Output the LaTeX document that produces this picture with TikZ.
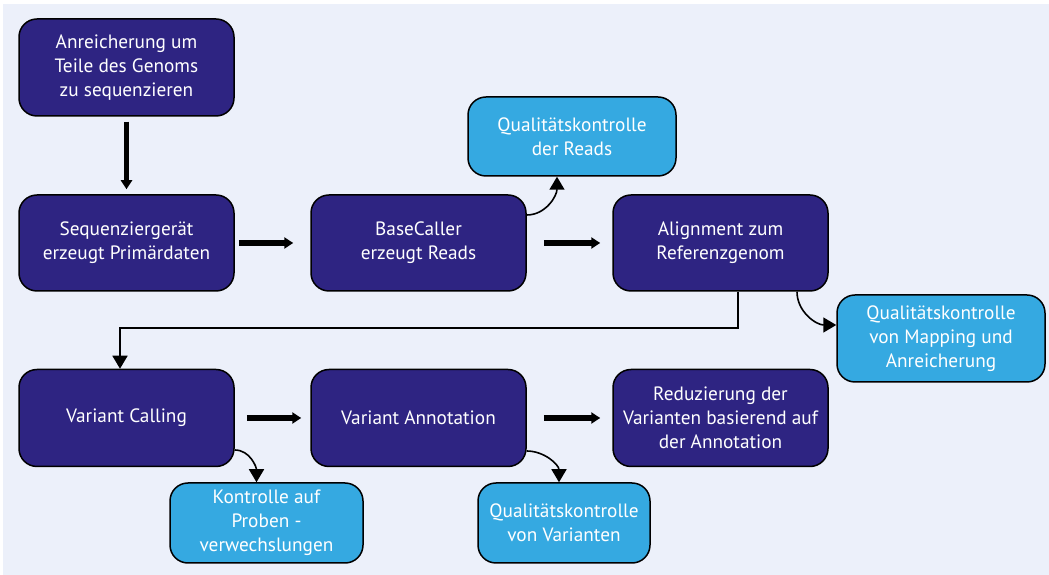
\documentclass[tikz,border=0pt]{standalone}
\usepackage{fontspec}
\setmainfont{PT Sans}
\usetikzlibrary{arrows.meta,calc}
\definecolor{navy}{HTML}{2E2482}
\definecolor{cyanbox}{HTML}{35A9E1}
\definecolor{bgcol}{HTML}{ECF0FA}
\tikzset{
  darkbox/.style={draw=black, line width=1.5pt, fill=navy, rounded corners=18pt, text=white, align=center, minimum width=215pt, minimum height=96pt, inner sep=0pt, font=\fontsize{19.3}{24}\selectfont},
  lightbox/.style={draw=black, line width=1.5pt, fill=cyanbox, rounded corners=18pt, text=white, align=center, inner sep=0pt, font=\fontsize{19.3}{24}\selectfont},
  thickarrow/.style={line width=5.5pt, -{Triangle[length=9pt,width=11pt]}},
  thinarrow/.style={line width=1.6pt, -{Triangle[length=13pt,width=15pt]}}
}
\begin{document}
\begin{tikzpicture}[x=1pt,y=1pt]
\useasboundingbox (0,0) rectangle (1049,575);
\fill[bgcol] (3,0) rectangle (1049,571);
\node[darkbox, minimum height=97pt] (A) at (126.5,507.5) {Anreicherung um\\Teile des Genoms\\zu sequenzieren};
\node[darkbox] (B) at (126.5,332) {Sequenzierger\"at\\erzeugt Prim\"ardaten};
\node[darkbox] (C) at (418.5,332) {BaseCaller\\erzeugt Reads};
\node[darkbox] (D) at (720.5,332) {Alignment zum\\Referenzgenom};
\node[lightbox, minimum width=208pt, minimum height=79pt] (QR) at (572,438.5) {Qualit\"atskontrolle\\der Reads};
\node[lightbox, minimum width=208pt, minimum height=87pt] (QM) at (941,236.5) {Qualit\"atskontrolle\\von Mapping und\\Anreicherung};
\node[darkbox, minimum height=97pt] (E) at (126.5,157) {Variant Calling};
\node[darkbox, minimum height=97pt] (F) at (418.5,157) {Variant Annotation};
\node[darkbox, minimum height=97pt] (G) at (720.5,157) {Reduzierung der\\Varianten basierend auf\\der Annotation};
\node[lightbox, minimum width=193pt, minimum height=80pt] (KP) at (266.5,52) {Kontrolle auf\\Proben -\\verwechslungen};
\node[lightbox, minimum width=172pt, minimum height=80pt] (QV) at (564,52) {Qualit\"atskontrolle\\von Varianten};

\draw[thickarrow, shorten <=5pt, shorten >=5pt] (A.south) -- (B.north);
\draw[thickarrow, shorten <=4pt, shorten >=17pt] (B.east) -- (C.west);
\draw[thickarrow, shorten <=17pt, shorten >=12pt] (C.east) -- (D.west);
\draw[thickarrow, shorten <=12pt, shorten >=9pt] (E.east) -- (F.west);
\draw[thickarrow, shorten <=17pt, shorten >=12pt] (F.east) -- (G.west);

\draw[thinarrow] ([yshift=28pt]C.east) to[out=0,in=-90] ([xshift=-15pt]QR.south);
\draw[thinarrow] ([xshift=76.5pt]D.south) to[out=-90,in=180] ([yshift=13.5pt]QM.west);
\draw[thinarrow] ([xshift=17.5pt]D.south) -- ++(0,-36) -| ([xshift=-6.5pt]E.north);
\draw[thinarrow] ([yshift=-32pt]E.east) to[out=0,in=90] ([xshift=-10pt]KP.north);
\draw[thinarrow] ([yshift=-33pt]F.east) to[out=0,in=90] ([xshift=-5pt]QV.north);
\end{tikzpicture}
\end{document}
